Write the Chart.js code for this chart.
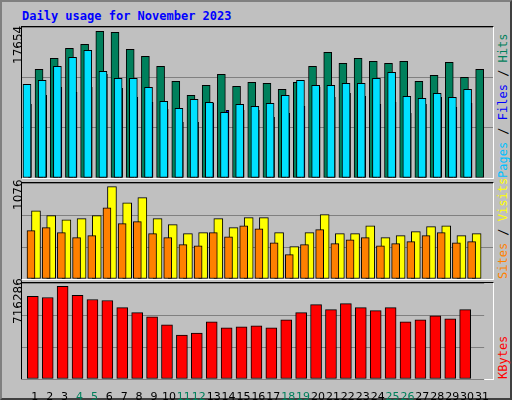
<!DOCTYPE html>
<html>
<head>
<meta charset="utf-8">
<script src="https://cdn.jsdelivr.net/npm/chart.js@4"></script>
<style>
  body { margin: 0; background: #c0c0c0; }
  #page { position: absolute; left: 0; top: 0; width: 508px; height: 396px; background: #c0c0c0;
          border: 2px solid #404040; border-top-color: #808080; border-left-color: #808080; }
  .panel { position: absolute; border-top: 1px solid #000; border-left: 1px solid #000;
           border-right: 1px solid #fff; border-bottom: 1px solid #fff; }
  canvas { display: block; }
  .rot { position: absolute; transform-origin: 0 0; transform: rotate(-90deg); white-space: nowrap;
         font-family: "DejaVu Sans Mono", monospace; font-size: 12px; }
  #title { position: absolute; left: 20px; top: 7px; font: bold 12px "DejaVu Sans Mono", monospace; color: #0000ff; }
</style>
</head>
<body>
<div id="page">
  <div id="title">Daily usage for November 2023</div>
  <div class="panel" style="left:19px;top:24px;width:471px;height:151px"><canvas id="c1" width="471" height="151"></canvas></div>
  <div class="panel" style="left:19px;top:180px;width:471px;height:96px"><canvas id="c2" width="471" height="96"></canvas></div>
  <div class="panel" style="left:19px;top:280px;width:471px;height:96px"></div>
  <canvas id="c3" width="471" height="118" style="position:absolute;left:20px;top:281px"></canvas>

  <div class="rot" style="left:9px;top:62px;color:#000;font-family:'DejaVu Sans';">17654</div>
  <div class="rot" style="left:9px;top:208px;color:#000;font-family:'DejaVu Sans';">1076</div>
  <div class="rot" style="left:9px;top:322px;color:#000;font-family:'DejaVu Sans';">716286</div>

  <div class="rot" style="left:494px;top:176px"><span style="color:#00c0ff">Pages</span> / <span style="color:#0000ff">Files</span> / <span style="color:#00805c">Hits</span></div>
  <div class="rot" style="left:494px;top:277px"><span style="color:#ff8000">Sites</span> / <span style="color:#ffff00">Visits</span></div>
  <div class="rot" style="left:494px;top:377px"><span style="color:#ff0000">KBytes</span></div>
</div>
<script>
const days = [];
for (let d = 1; d <= 31; d++) days.push(d);
const weekendDays = [4, 5, 11, 12, 18, 19, 25, 26];

const hits = [13080, 14404, 15608, 16089, 17654, 17533, 15487, 14644, 13441, 11635, 9950, 11154, 12478, 11033, 11514,
              11394, 10672, 11514, 13441, 15126, 13802, 14404, 14042, 13802, 14042, 11635, 12357, 13922, 12117, 13080];
const files = [8867, 9950, 10913, 10311, 10913, 12477, 10792, 9709, 9107, 8265, 6700, 6700, 8987, 8144, 8144,
               8144, 7302, 7783, 8626, 10913, 9709, 10190, 9829, 8867, 9107, 7783, 8867, 9709, 8505, 8987];
const pages = [11274, 11755, 13441, 14524, 15366, 12838, 11996, 11996, 10913, 9228, 8385, 9468, 9107, 7904, 8867,
               8626, 8987, 9950, 11755, 11154, 11154, 11394, 11394, 11996, 12718, 9829, 9589, 10190, 9709, 10672];
const visits = [796, 738, 691, 703, 738, 1076, 889, 948, 703, 633, 528, 540, 703, 598, 715,
                715, 540, 377, 540, 750, 528, 528, 621, 482, 505, 552, 610, 621, 505, 528];
const sites = [563, 598, 540, 482, 505, 831, 645, 668, 528, 482, 400, 388, 540, 493, 621,
               586, 423, 284, 400, 575, 412, 458, 482, 388, 412, 435, 505, 540, 423, 435];
const kbytes = [637865, 630022, 716286, 645709, 614337, 606494, 551596, 512380, 481009, 418268, 339846, 355531, 441801, 394745, 402588,
                410430, 394745, 457487, 512380, 575124, 535910, 582967, 551596, 528066, 551596, 441801, 457487, 488852, 465330, 535910];

function pts(values, shift) {
    return values.map((v, i) => ({ x: i + 1 + shift, y: v }));
}

function bars(values, shift, color, width, order) {
    return {
        data: pts(values, shift), backgroundColor: color, borderColor: "#000",
        borderWidth: 1, borderSkipped: false, barThickness: width, order: order
    };
}

function makeChart(id, datasets, yMax, showX) {
    return new Chart(document.getElementById(id), {
        type: "bar",
        data: { datasets: datasets },
        options: {
            responsive: false, animation: false, devicePixelRatio: 1,
            layout: { padding: 0 },
            plugins: { legend: { display: false }, tooltip: { enabled: false } },
            scales: {
                x: {
                    type: "linear", min: 0.145, max: 31.145, offset: false,
                    grid: { display: false }, border: { display: false },
                    afterBuildTicks: s => { s.ticks = days.map(v => ({ value: v })); },
                    afterFit: s => { s.height = showX ? 22 : 0; },
                    ticks: {
                        display: showX, autoSkip: false, maxRotation: 0, padding: 4,
                        font: { family: "DejaVu Sans", size: 11 },
                        color: c => weekendDays.includes(c.tick.value) ? "#00805c" : "#000"
                    }
                },
                y: {
                    min: 0, max: yMax, afterFit: s => { s.width = 0; },
                    ticks: { display: false, stepSize: yMax / 3 },
                    grid: { color: "#808080", drawTicks: false }, border: { display: false }
                }
            }
        }
    });
}

makeChart("c1", [
    bars(hits, -0.26, "#00805c", 8, 2),
    bars(files, -0.33, "#0000ff", 3, 1),
    bars(pages, 0, "#00e0ff", 8, 0)
], 18176, false);

makeChart("c2", [
    bars(visits, -0.23, "#ffff00", 9, 1),
    bars(sites, 0, "#ff8000", 8, 0)
], 1119, false);

makeChart("c3", [
    bars(kbytes, -0.13, "#ff0000", 11, 0)
], 741785, true);
</script>
</body>
</html>
